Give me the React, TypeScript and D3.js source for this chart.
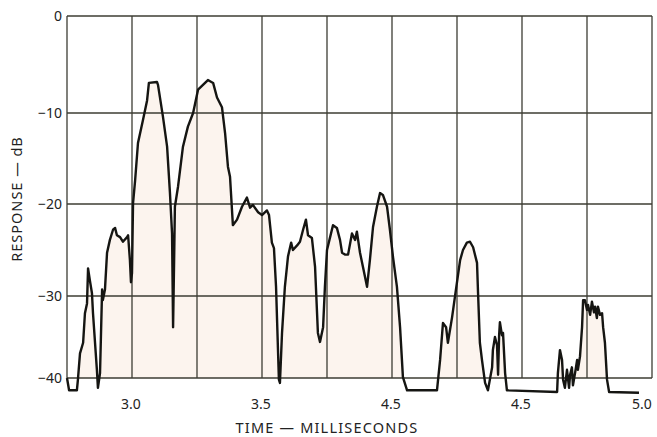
import React from "react";
import * as d3 from "d3";

const timeMs = [
  2.75, 2.758, 2.788, 2.792, 2.8, 2.812, 2.819, 2.827, 2.831, 2.838, 2.846, 2.85, 2.865, 2.869, 2.877,
  2.885, 2.888, 2.896, 2.904, 2.915, 2.927, 2.935, 2.942, 2.954, 2.965, 2.981, 2.985, 2.992, 2.996, 3.0,
  3.004, 3.012, 3.023, 3.042, 3.058, 3.065, 3.096, 3.1, 3.119, 3.135, 3.146, 3.154, 3.158, 3.162, 3.165,
  3.177, 3.196, 3.215, 3.235, 3.254, 3.273, 3.292, 3.312, 3.327, 3.346, 3.358, 3.369, 3.377, 3.388, 3.404,
  3.423, 3.442, 3.454, 3.465, 3.485, 3.5, 3.519, 3.527, 3.538, 3.546, 3.554, 3.565, 3.569, 3.577, 3.588,
  3.596, 3.6, 3.612, 3.619, 3.635, 3.646, 3.658, 3.669, 3.677, 3.692, 3.704, 3.715, 3.723, 3.735, 3.742,
  3.75, 3.762, 3.773, 3.788, 3.8, 3.808, 3.819, 3.831, 3.846, 3.858, 3.865, 3.877, 3.888, 3.904, 3.915,
  3.927, 3.942, 3.954, 3.965, 3.981, 3.992, 4.004, 4.019, 4.031, 4.042, 4.058, 4.173, 4.185, 4.196, 4.208,
  4.215, 4.231, 4.242, 4.262, 4.273, 4.288, 4.3, 4.312, 4.327, 4.331, 4.338, 4.346, 4.358, 4.369, 4.385,
  4.388, 4.396, 4.404, 4.408, 4.412, 4.415, 4.423, 4.427, 4.435, 4.442, 4.635, 4.638, 4.646, 4.654, 4.658,
  4.665, 4.673, 4.681, 4.685, 4.692, 4.696, 4.704, 4.712, 4.715, 4.723, 4.731, 4.735, 4.742, 4.75, 4.754,
  4.762, 4.769, 4.777, 4.781, 4.788, 4.792, 4.8, 4.808, 4.812, 4.819, 4.827, 4.835, 4.95,
];

const responseDb = [
  -40, -41.5, -41.5, -40.2, -37.0, -35.7, -32.1, -30.9, -27.0, -28.3, -29.7, -32.1, -39.0, -41.2, -39.4,
  -29.3, -30.5, -29.3, -25.3, -23.9, -22.8, -22.6, -23.4, -23.6, -24.1, -23.6, -23.4, -26.1, -28.5, -27.5,
  -19.9, -17.4, -13.3, -10.8, -8.7, -6.9, -6.8, -7.1, -10.4, -13.7, -18.8, -23.2, -33.8, -26.1, -20.3,
  -18.1, -13.7, -11.5, -10.0, -7.6, -7.1, -6.6, -6.9, -8.4, -9.4, -12.2, -15.9, -17.0, -22.3, -21.7,
  -20.3, -19.3, -20.4, -20.1, -20.9, -21.2, -20.7, -21.2, -24.2, -24.8, -29.0, -40.2, -40.6, -34.5, -29.0,
  -26.8, -25.7, -24.2, -25.0, -24.5, -24.1, -22.8, -21.7, -23.4, -23.7, -26.8, -34.5, -35.6, -33.8, -29.0,
  -25.0, -23.6, -22.3, -22.6, -23.9, -25.3, -25.5, -25.5, -23.2, -23.9, -23.0, -25.3, -26.8, -29.0, -26.1,
  -22.5, -20.3, -18.8, -19.0, -20.3, -22.8, -25.8, -29.0, -33.8, -39.9, -41.5, -41.5, -37.8, -33.3, -33.8,
  -35.7, -32.6, -30.1, -26.1, -25.0, -24.2, -24.1, -24.7, -26.4, -29.7, -35.7, -37.8, -40.6, -41.5, -38.7,
  -36.6, -35.0, -36.0, -39.6, -34.8, -33.2, -34.8, -34.5, -39.4, -41.5, -41.7, -39.4, -36.6, -37.8, -40.2,
  -41.2, -39.0, -41.2, -39.6, -38.7, -40.9, -39.4, -37.8, -39.0, -37.4, -33.8, -30.5, -30.5, -31.7, -31.1,
  -32.3, -30.7, -32.0, -31.3, -32.7, -31.3, -32.3, -32.1, -33.8, -35.7, -40.2, -41.7, -41.8,
];

const yTicks = [0, -10, -20, -30, -40];
const yTickLabels = ["0", "\u221210", "\u221220", "\u221230", "\u221240"];
const xGrid = [2.75, 3.0, 3.25, 3.5, 3.75, 4.0, 4.25, 4.5, 4.75, 5.0];
const xTickValues = [3.0, 3.5, 4.0, 4.5, 5.0];
const xTickLabels = ["3.0", "3.5", "4.5", "4.5", "5.0"];
const yTitle = "RESPONSE \u2014 dB";
const xTitle = "TIME \u2014 MILLISECONDS";

export default function App() {
  const W = 657;
  const H = 437;
  const x = d3.scaleLinear().domain([2.75, 5.0]).range([67, 652]);
  const y = d3.scaleLinear().domain([0, -10, -20, -30, -40]).range([16, 113, 204, 296, 378]);
  const data = timeMs.map((t, i) => ({ t, v: responseDb[i] }));
  const line = d3.line<{ t: number; v: number }>().x((d) => x(d.t)).y((d) => y(d.v));
  const area = d3
    .area<{ t: number; v: number }>()
    .x((d) => x(d.t))
    .y0(y(-40))
    .y1((d) => Math.min(y(d.v), y(-40)));
  const font = "'Noto Sans', 'DejaVu Sans', sans-serif";
  const gridColor = "#3d3d33";
  return (
    <svg width={W} height={H} style={{ position: "absolute", left: 0, top: 0, background: "#fff" }}>
      <path d={area(data) || ""} fill="#fcf4ee" />
      {yTicks.map((v) => (
        <line key={"h" + v} x1={x(2.75)} x2={x(5.0)} y1={y(v)} y2={y(v)} stroke={gridColor} strokeWidth={1.3} />
      ))}
      {xGrid.map((t) => (
        <line key={"v" + t} x1={x(t)} x2={x(t)} y1={y(0)} y2={y(-40)} stroke={gridColor} strokeWidth={1.3} />
      ))}
      <path d={line(data) || ""} fill="none" stroke="#151512" strokeWidth={2.4} strokeLinejoin="round" />
      {yTicks.map((v, i) => (
        <text key={"yl" + v} x={62} y={y(v)} dy="0.36em" textAnchor="end" fontFamily={font} fontSize={14} fill="#222">
          {yTickLabels[i]}
        </text>
      ))}
      {xTickValues.map((t, i) => (
        <text
          key={"xl" + i}
          x={Math.min(x(t) - 1, 642)}
          y={409}
          textAnchor="middle"
          fontFamily={font}
          fontSize={14}
          fill="#222"
        >
          {xTickLabels[i]}
        </text>
      ))}
      <text
        transform={`translate(22, 199) rotate(-90)`}
        textAnchor="middle"
        fontFamily={font}
        fontSize={14.5}
        letterSpacing={1}
        fill="#222"
      >
        {yTitle}
      </text>
      <text x={327} y={433} textAnchor="middle" fontFamily={font} fontSize={14.5} letterSpacing={1.2} fill="#222">
        {xTitle}
      </text>
    </svg>
  );
}
